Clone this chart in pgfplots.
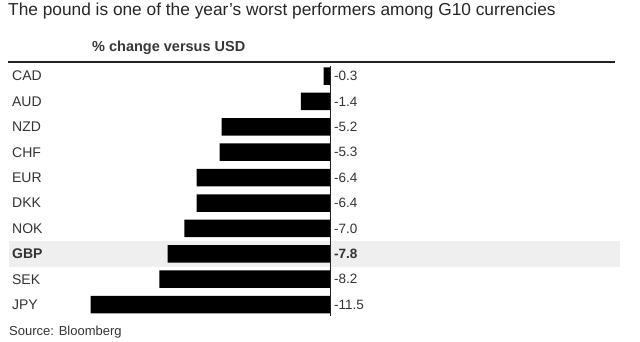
\documentclass[border=0pt]{standalone}
\usepackage{pgfplots}
\usepackage{pgfplotstable}
\pgfplotsset{compat=1.18}
\usepackage{fontspec}
\setmainfont{Liberation Sans}
\definecolor{bandgray}{HTML}{EFEFEF}
\definecolor{linegray}{HTML}{222222}
\pgfplotstableread{
idx val label
0 -0.3 -0.3
1 -1.4 -1.4
2 -5.2 -5.2
3 -5.3 -5.3
4 -6.4 -6.4
5 -6.4 -6.4
6 -7.0 -7.0
7 -7.8 \textbf{-7.8}
8 -8.2 -8.2
9 -11.5 -11.5
}\data
\begin{document}
\begin{tikzpicture}
\useasboundingbox (0pt,0pt) rectangle (640pt,341pt);
\node[anchor=base west, inner sep=0pt, text=black!85] at (8pt,325.5pt) {\fontsize{17.3}{20}\selectfont The pound is one of the year's worst performers among G10 currencies};
\node[anchor=base west, inner sep=0pt, text=black!78] at (92pt,290pt) {\fontsize{14.5}{16}\selectfont\bfseries \% change versus USD};
\node[anchor=base west, inner sep=0pt, text=black!80] at (9pt,5.5pt) {\fontsize{13}{15}\selectfont Source: Bloomberg};
\begin{axis}[
  at={(8pt,23.7pt)}, anchor=south west,
  scale only axis, width=612pt, height=254pt,
  xmin=-15.47, xmax=13.94,
  ymin=-0.5, ymax=9.5, y dir=reverse,
  axis lines=none,
  clip=false,
]
\fill[bandgray] (axis cs:-15.43,6.5) rectangle (axis cs:13.94,7.5);
\addplot[xbar, bar width=17.5pt, fill=black, draw=none] table[x=val, y=idx] {\data};
\addplot[only marks, mark=none, nodes near coords, point meta=explicit symbolic,
  nodes near coords style={anchor=west, inner sep=0pt, xshift=4pt, text=black!80, font=\fontsize{13.5}{15}\selectfont}]
  table[x expr=0, y=idx, meta=label] {\data};
\draw[linegray, line width=0.8pt] (axis cs:0,-0.39) -- (axis cs:0,9.45);
\draw[linegray, line width=1.8pt] (axis cs:-15.47,-0.563) -- (axis cs:13.7,-0.563);
\begin{scope}[every node/.style={anchor=west, inner sep=0pt, text=black!80, font=\fontsize{14}{16}\selectfont}]
\node at (axis cs:-15.28,0) {CAD};
\node at (axis cs:-15.28,1) {AUD};
\node at (axis cs:-15.28,2) {NZD};
\node at (axis cs:-15.28,3) {CHF};
\node at (axis cs:-15.28,4) {EUR};
\node at (axis cs:-15.28,5) {DKK};
\node at (axis cs:-15.28,6) {NOK};
\node at (axis cs:-15.28,7) {\bfseries GBP};
\node at (axis cs:-15.28,8) {SEK};
\node at (axis cs:-15.28,9) {JPY};
\end{scope}
\end{axis}
\end{tikzpicture}
\end{document}
